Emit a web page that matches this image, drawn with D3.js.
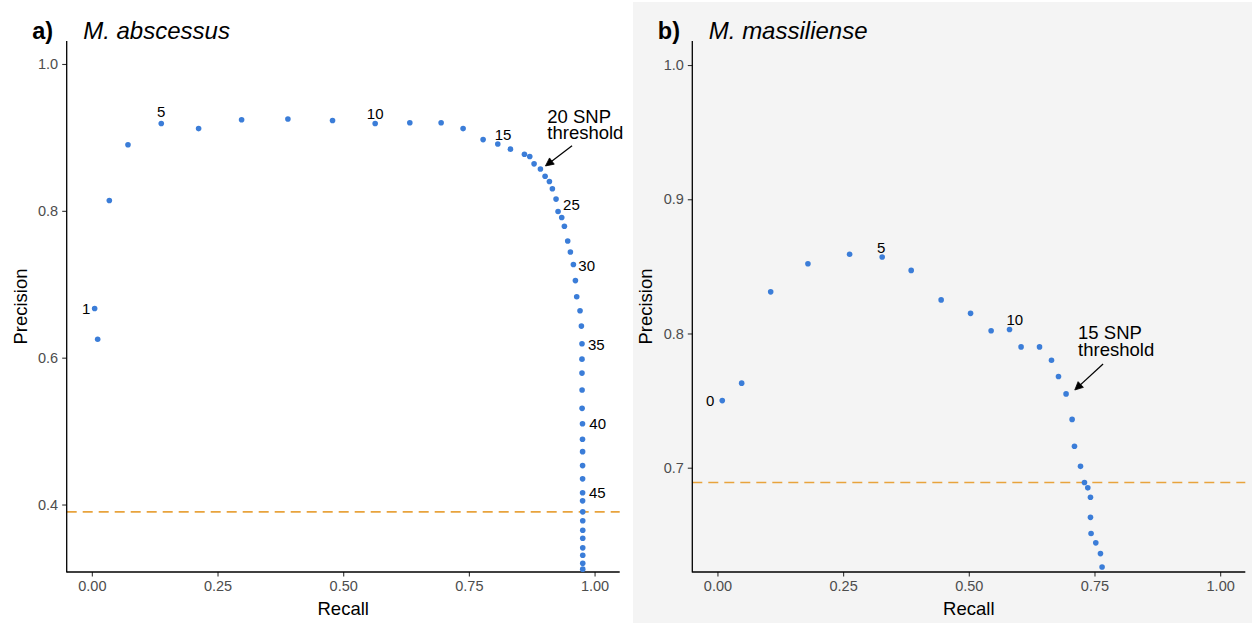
<!DOCTYPE html>
<html>
<head>
<meta charset="utf-8">
<script src="https://cdn.jsdelivr.net/npm/d3@7"></script>
<style>
  html, body { margin: 0; padding: 0; background: #ffffff; }
  svg { display: block; font-family: "Liberation Sans", Arial, Helvetica, sans-serif; }
</style>
</head>
<body>
<svg id="chart" width="1252" height="623"></svg>
<script>
// ---- M. abscessus: precision / recall by SNP threshold (thresholds 1..54)
const absThresholds = d3.range(1, 55);
const absRecall = [
  0.0056, 0.0116, 0.0348, 0.0719, 0.1381, 0.2124, 0.2979, 0.3900, 0.4788, 0.5636,
  0.6325, 0.6948, 0.7385, 0.7783, 0.8075, 0.8326, 0.8605, 0.8711, 0.8797, 0.8923,
  0.9016, 0.9102, 0.9161, 0.9234, 0.9274, 0.9347, 0.9400, 0.9466, 0.9519, 0.9579,
  0.9619, 0.9645, 0.9711, 0.9738, 0.9750, 0.9750, 0.9750, 0.9752, 0.9752, 0.9760,
  0.9760, 0.9762, 0.9762, 0.9762, 0.9762, 0.9762, 0.9765, 0.9765, 0.9765, 0.9765,
  0.9765, 0.9765, 0.9765, 0.9765
];
const absPrecision = [
  0.667, 0.625, 0.814, 0.890, 0.919, 0.912, 0.924, 0.925, 0.923, 0.919,
  0.920, 0.920, 0.912, 0.897, 0.891, 0.884, 0.877, 0.874, 0.864, 0.857,
  0.847, 0.840, 0.830, 0.816, 0.799, 0.791, 0.779, 0.759, 0.744, 0.727,
  0.705, 0.683, 0.664, 0.643, 0.619, 0.598, 0.579, 0.556, 0.531, 0.510,
  0.489, 0.472, 0.453, 0.435, 0.416, 0.405, 0.390, 0.378, 0.365, 0.354,
  0.341, 0.331, 0.320, 0.312
];
const absLabelled = [1, 5, 10, 15, 25, 30, 35, 40, 45];
const absBaseline = 0.39;
const absYTicks = [0.4, 0.6, 0.8, 1.0];

// ---- M. massiliense: precision / recall by SNP threshold (thresholds 0..26)
const masThresholds = d3.range(0, 27);
const masRecall = [
  0.0096, 0.0482, 0.1059, 0.1800, 0.2629, 0.3277, 0.3854, 0.4450, 0.5035, 0.5444,
  0.5810, 0.6040, 0.6407, 0.6645, 0.6784, 0.6935, 0.7055, 0.7102, 0.7222, 0.7301,
  0.7367, 0.7420, 0.7420, 0.7432, 0.7526, 0.7619, 0.7651
];
const masPrecision = [
  0.750, 0.763, 0.831, 0.852, 0.859, 0.857, 0.847, 0.825, 0.815, 0.802,
  0.803, 0.790, 0.790, 0.780, 0.768, 0.755, 0.736, 0.716, 0.701, 0.689,
  0.685, 0.678, 0.663, 0.651, 0.644, 0.636, 0.626
];
const masLabelled = [0, 5, 10];
const masBaseline = 0.689;
const masYTicks = [0.7, 0.8, 0.9, 1.0];

const xTicks = [0, 0.25, 0.5, 0.75, 1.0];

// annotation text + arrow, in data units
const absNote = { lines: ["20 SNP", "threshold"], x: 0.906, y: 0.920, from: [0.9552, 0.8887], to: [0.9023, 0.8611] };
const masNote = { lines: ["15 SNP", "threshold"], x: 0.7174, y: 0.7957, from: [0.7671, 0.7773], to: [0.7108, 0.7579] };

// label placement relative to its point (pixels, label centre)
const absNudge = { 1: [-8.5, 0], 5: [0, -12], 10: [0, -10], 15: [5.3, -9.7], 25: [13.4, -7],
                   30: [13.3, 0.7], 35: [14.3, 1], 40: [15.2, 0.3], 45: [14.7, 0.3] };
const masNudge = { 0: [-12, 0.3], 5: [-1, -9.2], 10: [5.3, -9.8] };

const svg = d3.select("#chart");
const POINT = "#3b7dd8", DASH = "#e8a33c", INK = "#000000", TICK_TXT = "#4d4d4d";

// right panel backdrop
svg.append("rect").attr("x", 633).attr("y", 2).attr("width", 619).attr("height", 621).attr("fill", "#f4f4f4");

function panel(opt) {
  const g = svg.append("g");
  const x = d3.scaleLinear().domain([-0.05, 1.05]).range([opt.left, opt.left + 553]);
  const y = d3.scaleLinear().domain(opt.yDomain).range([572, 41]);

  const clipId = "clip-" + opt.id;
  g.append("clipPath").attr("id", clipId).append("rect")
    .attr("x", x.range()[0]).attr("y", 41).attr("width", 553).attr("height", 531);

  // reference line
  g.append("line")
    .attr("x1", x.range()[0]).attr("x2", x.range()[1])
    .attr("y1", y(opt.baseline)).attr("y2", y(opt.baseline))
    .attr("stroke", DASH).attr("stroke-width", 1.6).attr("stroke-dasharray", "10,6");

  // axes
  const xAxis = d3.axisBottom(x).tickValues(xTicks).tickFormat(d3.format(".2f")).tickSize(4.5).tickPadding(4);
  const yAxis = d3.axisLeft(y).tickValues(opt.yTicks).tickFormat(d3.format(".1f")).tickSize(4.5).tickPadding(4);
  const gx = g.append("g").attr("transform", `translate(0,572)`).call(xAxis);
  const gy = g.append("g").attr("transform", `translate(${x.range()[0]},0)`).call(yAxis);
  [gx, gy].forEach(a => {
    a.select(".domain").remove();
    a.selectAll(".tick line").attr("stroke", "#333333").attr("stroke-width", 1.1);
    a.selectAll(".tick text").attr("fill", TICK_TXT).attr("font-size", 14.5)
      .attr("font-family", '"Liberation Sans", Arial, Helvetica, sans-serif');
  });
  g.append("line").attr("x1", x.range()[0]).attr("x2", x.range()[0]).attr("y1", 41).attr("y2", 572.6)
    .attr("stroke", INK).attr("stroke-width", 1.3);
  g.append("line").attr("x1", x.range()[0]).attr("x2", x.range()[1]).attr("y1", 572).attr("y2", 572)
    .attr("stroke", INK).attr("stroke-width", 1.3);

  // points
  const pts = opt.thresholds.map((t, i) => ({ t, r: opt.recall[i], p: opt.precision[i] }));
  g.append("g").attr("clip-path", `url(#${clipId})`)
    .selectAll("circle").data(pts).join("circle")
    .attr("cx", d => x(d.r)).attr("cy", d => y(d.p)).attr("r", 2.8).attr("fill", POINT);

  // threshold labels
  g.selectAll("text.lab").data(pts.filter(d => opt.labelled.includes(d.t))).join("text")
    .attr("class", "lab")
    .attr("x", d => x(d.r) + opt.nudge[d.t][0])
    .attr("y", d => y(d.p) + opt.nudge[d.t][1] + 5.4)
    .attr("text-anchor", "middle").attr("font-size", 15).attr("fill", INK)
    .text(d => d.t);

  // annotation: two stacked lines of text, then an arrow to the threshold point
  opt.note.lines.forEach((s, i) => {
    g.append("text").attr("x", x(opt.note.x)).attr("y", y(opt.note.y) + i * 16.3)
      .attr("font-size", 18.5).attr("fill", INK).text(s);
  });
  const [x1, y1] = [x(opt.note.from[0]), y(opt.note.from[1])];
  const [x2, y2] = [x(opt.note.to[0]), y(opt.note.to[1])];
  const ang = Math.atan2(y1 - y2, x1 - x2), len = 9, spread = Math.PI / 7;
  g.append("line").attr("x1", x1).attr("y1", y1)
    .attr("x2", x2 + 5 * Math.cos(ang)).attr("y2", y2 + 5 * Math.sin(ang))
    .attr("stroke", INK).attr("stroke-width", 1.3);
  const head = [ang - spread, ang + spread].map(a => [x2 + len * Math.cos(a), y2 + len * Math.sin(a)]);
  g.append("path")
    .attr("d", `M${head[0][0]},${head[0][1]}L${x2},${y2}L${head[1][0]},${head[1][1]}Z`)
    .attr("fill", INK).attr("stroke", INK).attr("stroke-width", 0.8).attr("stroke-linejoin", "miter");

  // titles
  const cx = (x.range()[0] + x.range()[1]) / 2;
  g.append("text").attr("x", cx).attr("y", 615).attr("text-anchor", "middle")
    .attr("font-size", 18.5).attr("fill", INK).text("Recall");
  g.append("text").attr("transform", `translate(${opt.left - 40},306.5) rotate(-90)`)
    .attr("text-anchor", "middle").attr("font-size", 18.5).attr("fill", INK).text("Precision");
  g.append("text").attr("x", opt.left - 34.5).attr("y", 39.3).attr("font-size", 23.5)
    .attr("font-weight", "bold").attr("fill", INK).text(opt.tag);
  g.append("text").attr("x", opt.left + 16.5).attr("y", 39.3).attr("font-size", 24)
    .attr("font-style", "italic").attr("fill", INK).text(opt.title);
}

panel({ id: "a", left: 66.7, yDomain: [0.3081, 1.0313], yTicks: absYTicks, baseline: absBaseline,
        thresholds: absThresholds, recall: absRecall, precision: absPrecision,
        labelled: absLabelled, nudge: absNudge, note: absNote, tag: "a)", title: "M. abscessus" });
panel({ id: "b", left: 692.3, yDomain: [0.6223, 1.0179], yTicks: masYTicks, baseline: masBaseline,
        thresholds: masThresholds, recall: masRecall, precision: masPrecision,
        labelled: masLabelled, nudge: masNudge, note: masNote, tag: "b)", title: "M. massiliense" });
</script>
</body>
</html>
